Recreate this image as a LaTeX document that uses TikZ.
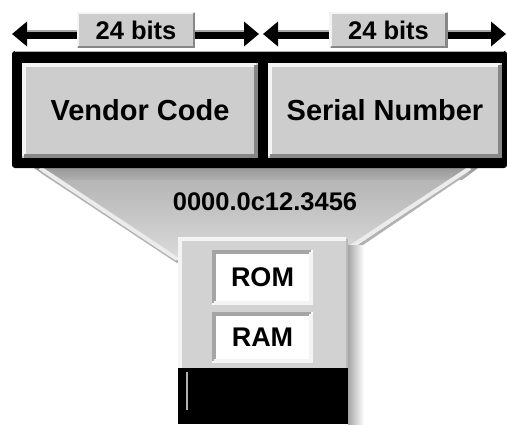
\documentclass[tikz,border=0pt]{standalone}
\usepackage{fontspec}
\setmainfont{Liberation Sans}
\usetikzlibrary{arrows.meta}
\definecolor{btn}{HTML}{CDCDCD}
\definecolor{btnhi}{HTML}{F4F4F4}
\definecolor{btnlo}{HTML}{878787}
\definecolor{funtop}{HTML}{B0B0B0}
\definecolor{funbot}{HTML}{DADADA}
\definecolor{chipc}{HTML}{D2D2D2}
\definecolor{cellrim}{HTML}{A5A5A5}
\tikzset{
 btnbox/.style={fill=btn, inner sep=0pt, font=\bfseries\fontsize{29}{29}\selectfont},
 memcell/.style={fill=white, minimum width=101pt, inner sep=0pt, font=\bfseries\fontsize{27}{27}\selectfont},
 bitsbox/.style={fill=btn, minimum width=118pt, minimum height=36pt, inner sep=0pt, font=\bfseries\fontsize{25.5}{25.5}\selectfont},
 addrtext/.style={font=\bfseries\fontsize{25.5}{25.5}\selectfont},
 dblarrow/.style={line width=9pt, {Triangle[width=24pt,length=15pt]}-{Triangle[width=24pt,length=15pt]}, black},
}
% raised / sunken bevel drawn inside a node's border
\newcommand\mybevel[4]{%
 \draw[#2,line width=#4] ([shift={(#4/2,#4/2)}]#1.south west) -- ([shift={(#4/2,-#4/2)}]#1.north west) -- ([shift={(-#4/2,-#4/2)}]#1.north east);
 \draw[#3,line width=#4] ([shift={(-#4/2,-#4/2)}]#1.north east) -- ([shift={(-#4/2,#4/2)}]#1.south east) -- ([shift={(#4/2,#4/2)}]#1.south west);}
\begin{document}
\begin{tikzpicture}[x=1pt,y=-1pt]
\useasboundingbox[fill=white] (0,0) rectangle (507,424);
% funnel
\shade[top color=funtop, bottom color=funbot] (40,168) -- (472,168) -- (350,248) -- (176,258) -- cycle;
\shade[top color=gray!80, bottom color=funtop] (34,168) -- (478,168) -- (462,180) -- (52,180) -- cycle;
\draw[line width=3pt, gray!60] (42,172) -- (178,262);
\draw[line width=4pt, gray!15] (40,168) -- (177,259);
\draw[line width=3pt, gray!60] (468,172) -- (350,252);
\draw[line width=4pt, gray!15] (470,168) -- (349,248);
\node[addrtext] (addr) at (265,202) {0000.0c12.3456};
% frame
\node[fill=black, minimum width=495pt, minimum height=117pt, inner sep=0pt, rounded corners=3pt] (frame) at (259.5,109.5) {};
\draw[gray!60, line width=1pt] ([shift={(3pt,-1pt)}]frame.north west) -- ([shift={(-3pt,-1pt)}]frame.north east);
% buttons
\node[btnbox, minimum width=236pt, minimum height=95pt] (vendor) at (140,110.5) {Vendor Code};
\mybevel{vendor}{btnhi}{btnlo}{4pt}
\node[btnbox, minimum width=234pt, minimum height=95pt] (serial) at (385,110.5) {Serial Number};
\mybevel{serial}{btnhi}{btnlo}{4pt}
% bit-width arrows
\coordinate (la) at (12,34);
\coordinate (lb) at (259,34);
\coordinate (ra) at (263,34);
\coordinate (rb) at (506,34);
\draw[dblarrow] (la) -- (lb);
\draw[dblarrow] (ra) -- (rb);
\draw[gray!70, line width=1.5pt] (27,31) -- (244,31);
\draw[gray!70, line width=1.5pt] (278,31) -- (491,31);
\node[bitsbox] (bitsL) at (136,30) {24 bits};
\mybevel{bitsL}{btnhi}{btnlo}{2.5pt}
\node[bitsbox] (bitsR) at (388.5,30) {24 bits};
\mybevel{bitsR}{btnhi}{btnlo}{2.5pt}
% chip
\shade[left color=gray!70, right color=white] (348,245) rectangle (364,424);
\node[fill=chipc, minimum width=170pt, minimum height=187pt, inner sep=0pt] (chip) at (263,330.5) {};
\draw[btnhi, line width=4pt] (180,424) -- (180,239) -- (346,239);
\draw[gray!55, line width=2pt] (347,239) -- (347,424);
\node[fill=black, minimum width=170pt, minimum height=56pt, inner sep=0pt] (base) at (263,396) {};
\draw[gray!60, line width=2pt] (187,372) -- (187,410);
\node[memcell, minimum height=55pt] (rom) at (262.5,277.5) {ROM};
\mybevel{rom}{cellrim}{btnhi}{4pt}
\node[memcell, minimum height=51pt] (ram) at (262.5,337.5) {RAM};
\mybevel{ram}{cellrim}{btnhi}{4pt}
\end{tikzpicture}
\end{document}
